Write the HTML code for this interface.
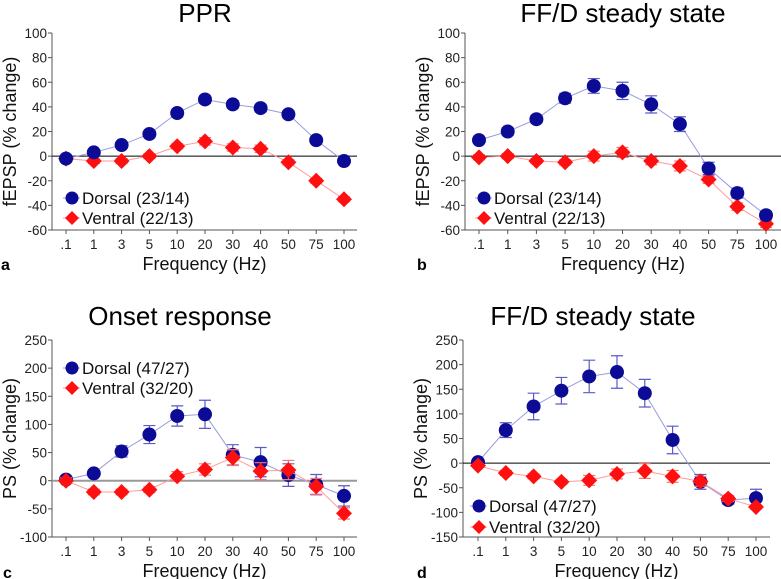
<!DOCTYPE html>
<html><head><meta charset="utf-8"><style>
body{margin:0;background:#fff;}
svg{display:block;font-family:"Liberation Sans",sans-serif;}
</style></head><body>
<svg id="fig" width="781" height="579" viewBox="0 0 781 579"></svg>
<script>
const categories=[".1","1","3","5","10","20","30","40","50","75","100"];
const aDorsal=[-2,3,9,18,35,46,42,39,34,13,-4];
const aDorsalErr=[2,2,2,2,3,3,3,3,3,2,2];
const aVentral=[-2,-4,-4,0,8,12,7,6,-5,-20,-35];
const aVentralErr=[2,2,2,2,2,3,3,3,2,2,2];
const bDorsal=[13,20,30,47,57,53,42,26,-10,-30,-48];
const bDorsalErr=[2,3,3,4,6,7,7,6,5,4,3];
const bVentral=[-1,0,-4,-5,0,3,-4,-8,-19,-41,-55];
const bVentralErr=[2,2,2,2,4,4,3,4,3,3,3];
const cDorsal=[2,13,52,82,115,118,46,33,10,-7,-27];
const cDorsalErr=[3,3,10,16,18,25,18,26,20,18,18];
const cVentral=[0,-20,-20,-16,8,20,41,17,19,-10,-58];
const cVentralErr=[5,5,5,5,8,10,14,15,17,14,10];
const dDorsal=[2,67,115,147,176,185,142,47,-38,-75,-71];
const dDorsalErr=[3,15,27,27,33,33,28,28,15,8,18];
const dVentral=[-5,-20,-27,-38,-35,-22,-16,-27,-37,-72,-89];
const dVentralErr=[3,5,5,5,10,10,15,12,10,6,4];
const ticksAB=[100,80,60,40,20,0,-20,-40,-60];
const ticksC=[250,200,150,100,50,0,-50,-100];
const ticksD=[250,200,150,100,50,0,-50,-100,-150];

const NS="http://www.w3.org/2000/svg";
const svg=document.getElementById('fig');
function mk(tag,attrs,parent,text){const e=document.createElementNS(NS,tag);for(const k in attrs)e.setAttribute(k,attrs[k]);if(text!==undefined)e.textContent=text;(parent||svg).appendChild(e);return e;}

function panel(p){
  const g=mk('g',{});
  
  
  const ymin=p.ticks[p.ticks.length-1], ymax=p.ticks[0];
  const Y=v=>p.yTop+(ymax-v)/(ymax-ymin)*(p.yBot-p.yTop);
  const X=i=>p.x0+i*(p.x1-p.x0)/(categories.length-1);
  const t=mk('text',{x:p.titleX,y:p.titleY,'font-size':26,'text-anchor':'middle',fill:'#000'},g,p.title);
  
  
  const ax=mk('path',{d:`M${p.ax} ${p.yTop}V${p.yBot}H${p.axEnd}`,stroke:'#555',fill:'none','stroke-width':1},g);
  
  
  p.ticks.forEach(v=>{
    mk('line',{x1:p.ax-4,x2:p.ax,y1:Y(v),y2:Y(v),stroke:'#555'},g);
    const tl=mk('text',{x:p.ax-5,y:Y(v)+5,'font-size':13.5,'text-anchor':'end',fill:'#222'},g,String(v));
    
    
  });
  categories.forEach((c,i)=>{
    mk('line',{x1:X(i),x2:X(i),y1:p.yBot,y2:p.yBot+4,stroke:'#555'},g);
    const tl=mk('text',{x:X(i),y:p.yBot+19,'font-size':13.5,'text-anchor':'middle',fill:'#222'},g,c);
    
    
  });
  const z=mk('line',{x1:p.ax,x2:p.axEnd,y1:Y(0),y2:Y(0),stroke:p.zeroColor,'stroke-width':p.zeroW},g);
  
  
  const xt=mk('text',{x:(p.ax+p.axEnd)/2,y:p.yBot+40,'font-size':18,'text-anchor':'middle',fill:'#111'},g,'Frequency (Hz)');
  
  
  const yt=mk('text',{x:0,y:0,'font-size':18,'text-anchor':'middle',fill:'#111',transform:`translate(${p.ytX},${(p.yTop+p.yBot)/2}) rotate(-90)`},g,p.yTitle);
  
  
  const lb=mk('text',{x:p.lblX,y:p.lblY,'font-size':16,'font-weight':'bold',fill:'#000'},g,p.id);
  
  
  const series=[
    {vals:p.ven,err:p.venErr,col:'#ff1010',line:'#ff9a9a',shape:'diamond',name:'ventral'},
    {vals:p.dor,err:p.dorErr,col:'#0b0b95',line:'#9a9ae0',shape:'circle',name:'dorsal'}];
  if(p.id==='c'||p.id==='d') series.reverse();
  series.forEach(s=>{
    const sg=mk('g',{},g);
    
    
    mk('polyline',{points:s.vals.map((v,i)=>X(i)+','+Y(v)).join(' '),fill:'none',stroke:s.line,'stroke-width':1},sg);
    s.vals.forEach((v,i)=>{
      const x=X(i),y1=Y(v+s.err[i]),y2=Y(v-s.err[i]);
      mk('path',{d:`M${x} ${y1}V${y2}M${x-6} ${y1}H${x+6}M${x-6} ${y2}H${x+6}`,stroke:s.name==='dorsal'?'#5a5ac8':'#ff7070','stroke-width':1.2,fill:'none'},sg);
      let m;
      if(s.shape==='circle') m=mk('circle',{cx:x,cy:Y(v),r:7,fill:s.col},sg);
      else m=mk('path',{d:`M${x} ${Y(v)-8}L${x+8} ${Y(v)}L${x} ${Y(v)+8}L${x-8} ${Y(v)}Z`,fill:s.col},sg);
      
      
    });
  });
  [[p.dLabel,p.legY1,'circle','#0b0b95','#9a9ae0','legend-dorsal'],[p.vLabel,p.legY2,'diamond','#ff1010','#ff9a9a','legend-ventral']].forEach(l=>{
    const lg=mk('g',{},g);
    
    
    const mx=p.legX;
    mk('line',{x1:mx-9,x2:mx+8,y1:l[1],y2:l[1],stroke:l[4]},lg);
    if(l[2]==='circle') mk('circle',{cx:mx,cy:l[1],r:6.5,fill:l[3]},lg);
    else mk('path',{d:`M${mx} ${l[1]-7}L${mx+7} ${l[1]}L${mx} ${l[1]+7}L${mx-7} ${l[1]}Z`,fill:l[3]},lg);
    mk('text',{x:mx+10,y:l[1]+6,'font-size':17,fill:'#111'},lg,l[0]);
  });
}
panel({id:'a',title:'PPR',titleX:205,titleY:22,ax:52,axEnd:357,x0:66,x1:344,yTop:33,yBot:230,ticks:ticksAB,dor:aDorsal,dorErr:aDorsalErr,ven:aVentral,venErr:aVentralErr,zeroColor:'#000',zeroW:1,yTitle:'fEPSP (% change)',ytX:16,lblX:1,lblY:270,legX:72,legY1:198,legY2:218,dLabel:'Dorsal (23/14)',vLabel:'Ventral (22/13)'});
panel({id:'b',title:'FF/D steady state',titleX:623,titleY:22,ax:465,axEnd:781,x0:479,x1:766,yTop:33,yBot:230,ticks:ticksAB,dor:bDorsal,dorErr:bDorsalErr,ven:bVentral,venErr:bVentralErr,zeroColor:'#000',zeroW:1,yTitle:'fEPSP (% change)',ytX:429,lblX:417,lblY:270,legX:484,legY1:198,legY2:218,dLabel:'Dorsal (23/14)',vLabel:'Ventral (22/13)'});
panel({id:'c',title:'Onset response',titleX:180,titleY:325,ax:52,axEnd:357,x0:66,x1:344,yTop:340,yBot:537,ticks:ticksC,dor:cDorsal,dorErr:cDorsalErr,ven:cVentral,venErr:cVentralErr,zeroColor:'#999',zeroW:2,yTitle:'PS (% change)',ytX:16,lblX:3,lblY:578,legX:72,legY1:368,legY2:388,dLabel:'Dorsal (47/27)',vLabel:'Ventral (32/20)'});
panel({id:'d',title:'FF/D steady state',titleX:593,titleY:325,ax:463,axEnd:770,x0:478,x1:756,yTop:340,yBot:537,ticks:ticksD,dor:dDorsal,dorErr:dDorsalErr,ven:dVentral,venErr:dVentralErr,zeroColor:'#000',zeroW:1,yTitle:'PS (% change)',ytX:427,lblX:417,lblY:578,legX:479,legY1:506,legY2:527,dLabel:'Dorsal (47/27)',vLabel:'Ventral (32/20)'});
</script>
</body></html>
